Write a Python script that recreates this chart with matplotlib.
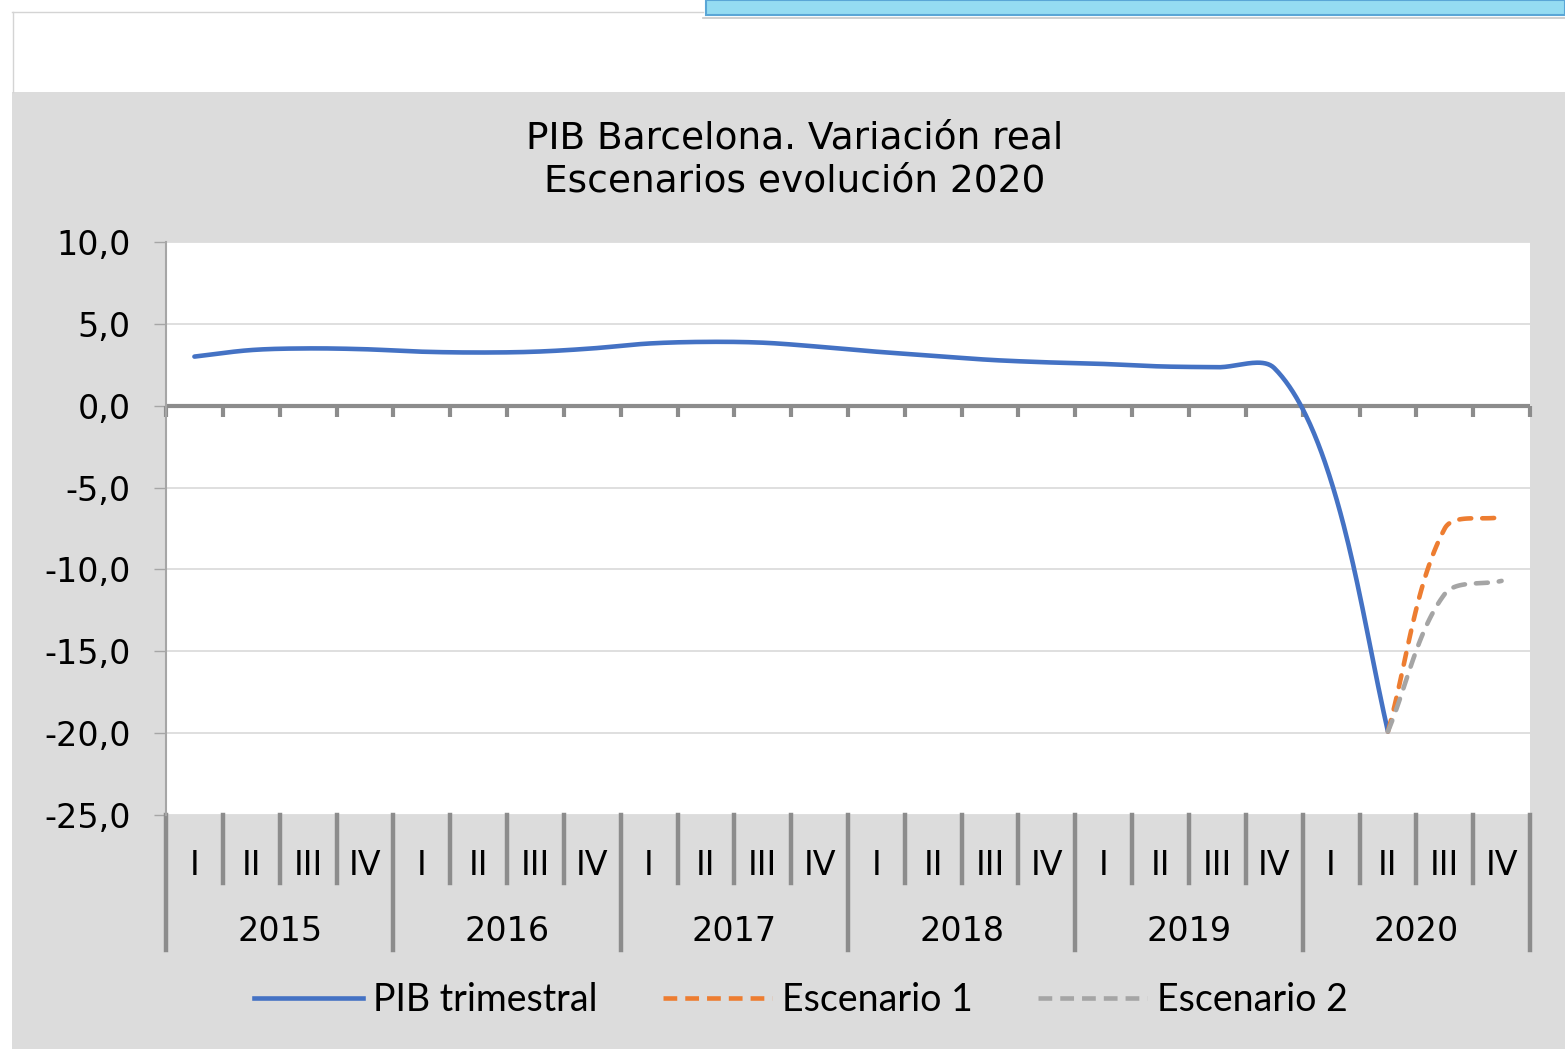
import numpy as np
import matplotlib.pyplot as plt
import matplotlib.transforms as mtransforms
from matplotlib.patches import Rectangle
from matplotlib.lines import Line2D

years = ['2015', '2016', '2017', '2018', '2019', '2020']
quarters = ['I', 'II', 'III', 'IV']

# PIB trimestral, 2015-I .. 2020-II
pib = [3.0, 3.4, 3.5, 3.45,
       3.3, 3.25, 3.3, 3.5,
       3.8, 3.9, 3.85, 3.6,
       3.3, 3.05, 2.8, 2.65,
       2.55, 2.4, 2.35, 2.3,
       -4.6, -19.9]
# scenarios 2020-II .. 2020-IV
esc1 = [-19.9, -7.5, -6.8]
esc2 = [-19.9, -11.5, -10.7]
esc_start = 21

W, H = 1565, 1049
BLUE, ORANGE, GREY = '#4472C4', '#ED7D31', '#A5A5A5'
AXGREY = '#8c8c8c'


def smooth(x, y, k=0.288, n=40):
    # Excel-like smoothed line: cubic bezier through the points
    x = np.asarray(x, float)
    y = np.asarray(y, float)
    py = y * k
    m = len(x)

    def ctrl(j, forward):
        a = max(j - 1, 0)
        b = min(j + 1, m - 1)
        tx, ty = x[b] - x[a], py[b] - py[a]
        dp = np.hypot(x[j] - x[a], py[j] - py[a])
        dn = np.hypot(x[b] - x[j], py[b] - py[j])
        f = (dn if forward else dp) / (dp + dn) / 3
        s = 1 if forward else -1
        return x[j] + s * tx * f, py[j] + s * ty * f

    xs, ys = [], []
    t = np.linspace(0, 1, n)
    for i in range(m - 1):
        c1 = ctrl(i, True)
        c2 = ctrl(i + 1, False)
        for arr, p0, p1, p2, p3 in ((xs, x[i], c1[0], c2[0], x[i + 1]),
                                    (ys, py[i], c1[1], c2[1], py[i + 1])):
            arr.extend((1 - t) ** 3 * p0 + 3 * (1 - t) ** 2 * t * p1
                       + 3 * (1 - t) * t ** 2 * p2 + t ** 3 * p3)
    return np.array(xs), np.array(ys) / k


fig = plt.figure(figsize=(W / 100, H / 100), dpi=100)
fig.patch.set_facecolor('white')

# grey chart area + screenshot bits at the top
fig.patches.append(Rectangle((12 / W, 0), 1 - 12 / W, (H - 92) / H, transform=fig.transFigure,
                             facecolor='#dcdcdc', edgecolor='none', zorder=-5))
fig.lines.append(Line2D([12 / W, 703 / W], [1 - 11.5 / H] * 2, transform=fig.transFigure,
                        color='#d4d4d4', lw=1))
fig.lines.append(Line2D([12.5 / W] * 2, [1 - 11.5 / H, 1 - 92 / H], transform=fig.transFigure,
                        color='#d4d4d4', lw=1))
fig.patches.append(Rectangle((706 / W, 1 - 15 / H), 1 - 706 / W, 15 / H, transform=fig.transFigure,
                             facecolor='#95dcf2', edgecolor='#5aa6d6', lw=1.5, zorder=-4))
fig.lines.append(Line2D([703 / W, 1], [1 - 17.5 / H] * 2, transform=fig.transFigure,
                        color='#c8c8c8', lw=1.2))

fig.text(795 / W, 1 - 160 / H, 'PIB Barcelona. Variación real\nEscenarios evolución 2020',
         ha='center', va='center', fontsize=27, family='DejaVu Sans', linespacing=1.22)

ax = fig.add_axes([166 / W, (H - 815) / H, 1364 / W, 573 / H])
ax.set_zorder(2)
ax.set_facecolor('white')
ax.set_xlim(-0.5, 23.5)
ax.set_ylim(-25, 10)

yt = list(range(-25, 11, 5))
ax.set_yticks(yt)
ax.set_yticklabels([f'{v:.1f}'.replace('.', ',') for v in yt])
ax.set_xticks([])
ax.tick_params(axis='y', direction='out', length=8.5, width=1, color='#a6a6a6',
               labelsize=24, pad=17)
for s in ['top', 'right', 'bottom']:
    ax.spines[s].set_visible(False)
ax.spines['left'].set_color('#a6a6a6')
ax.spines['left'].set_linewidth(1.5)

for v in yt:
    if v != 0:
        ax.axhline(v, color='#d9d9d9', lw=1.2, zorder=1)

# category axis at zero
ax.axhline(0, color=AXGREY, lw=3, zorder=2)
bounds = np.arange(25) - 0.5
ax.vlines(bounds, -0.7, 0, color=AXGREY, lw=3, zorder=2, clip_on=False)

trans = mtransforms.blended_transform_factory(ax.transData, ax.transAxes)
for i, b in enumerate(bounds):
    low = -0.236 if i % 4 == 0 else -0.119
    ax.plot([b, b], [0, low], transform=trans, clip_on=False, color=AXGREY, lw=3.2)
for i in range(24):
    ax.text(i, -0.088, quarters[i % 4], transform=trans, ha='center', va='center', fontsize=24)
for j, yr in enumerate(years):
    ax.text(4 * j + 1.5, -0.203, yr, transform=trans, ha='center', va='center', fontsize=24)

sx, sy = smooth(np.arange(len(pib)), pib)
ax.plot(sx, sy, color=BLUE, lw=3.3, solid_capstyle='round', zorder=4)
dash = (0, (2.6, 2.4))
ex = np.arange(esc_start, esc_start + len(esc1))
sx, sy = smooth(ex, esc1)
ax.plot(sx, sy, color=ORANGE, lw=3.3, ls=dash, dash_capstyle='round', zorder=5)
sx, sy = smooth(ex, esc2)
ax.plot(sx, sy, color=GREY, lw=3.3, ls=dash, dash_capstyle='round', zorder=6)

handles = [Line2D([], [], color=BLUE, lw=3.3),
           Line2D([], [], color=ORANGE, lw=3.3, ls=(0, (3.0, 1.75))),
           Line2D([], [], color=GREY, lw=3.3, ls=(0, (3.0, 1.75)))]
fig.legend(handles, ['PIB trimestral', 'Escenario 1', 'Escenario 2'], loc='center',
           bbox_to_anchor=(801 / W, 49 / H), ncol=3, frameon=False,
           prop={'family': 'Lato', 'size': 27}, handlelength=2.9, handletextpad=0.27,
           columnspacing=1.75)

fig.savefig('out.png', dpi=100)
